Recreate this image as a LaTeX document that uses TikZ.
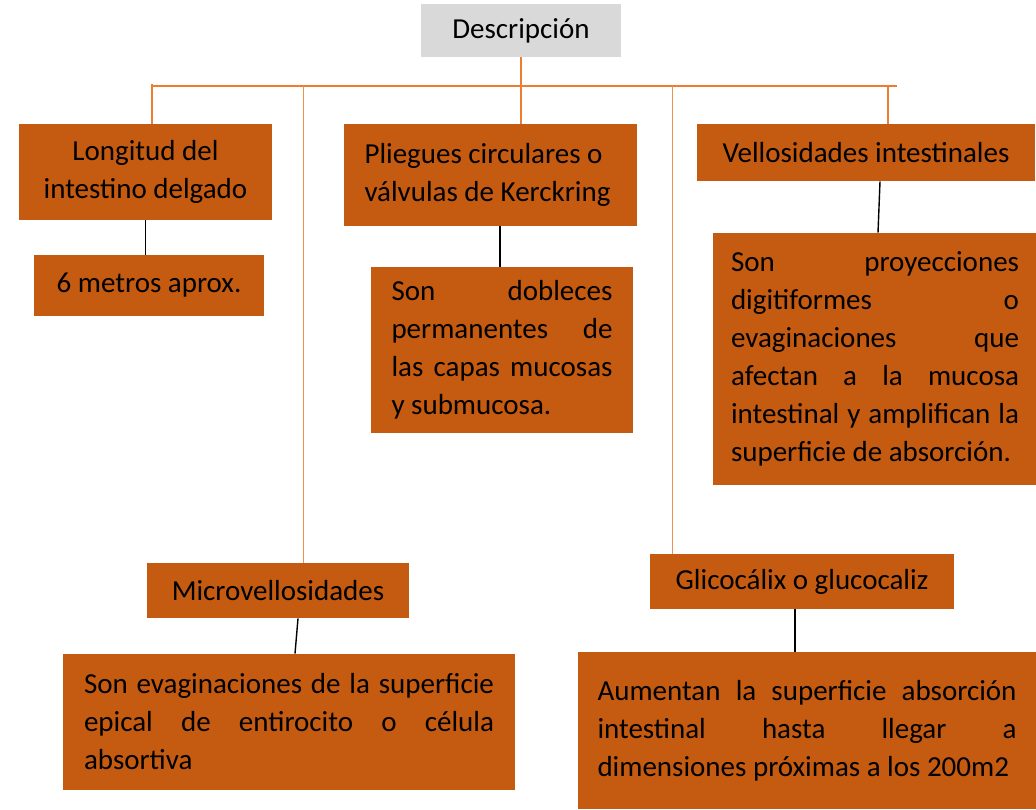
\documentclass[tikz,border=0pt]{standalone}
\usepackage{fontspec}
\setmainfont{Carlito}
\usetikzlibrary{positioning}
\definecolor{boxcol}{RGB}{197,90,17}
\definecolor{linecol}{RGB}{237,125,49}
\definecolor{titlecol}{RGB}{217,217,217}

\begin{document}
\begin{tikzpicture}[
    x=0.5pt, y=-0.5pt,
    box/.style={
        fill=boxcol,
        inner sep=0pt,
        font=\fontsize{14.5}{19}\selectfont
    },
    title/.style={
        fill=titlecol,
        inner sep=0pt,
        font=\fontsize{14.5}{19}\selectfont
    },
    para/.style={align=justify},
    branch/.style={draw=linecol, line width=0.8pt},
    thinbranch/.style={draw=linecol!85, line width=0.45pt},
    link/.style={draw=black, line width=0.7pt}
    ]
    \useasboundingbox (0,0) rectangle (1036,809);

    % Title
    \node[title, minimum width=100pt, minimum height=26.5pt] (desc) at (521,30.5) {Descripción};

    % First row
    \node[box, minimum width=126.5pt, minimum height=48pt, align=center] (lon) at (145.5,172) {Longitud del\\intestino delgado};
    \node[box, minimum width=146.5pt, minimum height=51pt, text width=126pt, align=flush left] (pli) at (490.5,175) {Pliegues circulares o\\válvulas de Kerckring};
    \node[box, minimum width=169pt, minimum height=28.5pt] (vel) at (866,152.5) {Vellosidades intestinales};

    % Details
    \node[box, minimum width=115pt, minimum height=30.5pt] (seis) at (149,285.5) {6 metros aprox.};
    \node[box, para, minimum width=131pt, minimum height=83pt, text width=110.5pt] (dob) at (502,350)
        {Son dobleces\linebreak permanentes de\linebreak las capas mucosas\linebreak y submucosa.};
    \node[box, para, minimum width=162.5pt, minimum height=126pt, text width=144pt] (pro) at (875,359)
        {Son proyecciones\linebreak digitiformes o\linebreak evaginaciones que\linebreak afectan a la mucosa\linebreak intestinal y amplifican la\linebreak superficie de absorción.};

    % Second row
    \node[box, minimum width=131pt, minimum height=27.5pt] (mic) at (278,590.5) {Microvellosidades};
    \node[box, minimum width=152pt, minimum height=27.5pt] (gli) at (802,581.5) {Glicocálix o glucocaliz};
    \node[box, para, minimum width=226pt, minimum height=68pt, text width=205pt] (eva) at (289,722)
        {Son evaginaciones de la superficie\linebreak epical de entirocito o célula\linebreak absortiva};
    \node[box, para, minimum width=229pt, minimum height=78.5pt, text width=209.5pt] (aum) at (807,730.5)
        {Aumentan la superficie absorción\linebreak intestinal hasta llegar a\linebreak dimensiones próximas a los 200m2};

    % Branches
    \coordinate (barl) at (152,86);
    \coordinate (barr) at (897,86);
    \draw[branch] (barl) -- (barr);
    \draw[branch] (desc.south) -- (desc.south |- pli.north);
    \draw[branch] ([yshift=1pt]barl) -- (barl |- lon.north);
    \draw[branch] (888,86) -- (vel.north -| 888,0);
    \draw[thinbranch] (303,86) -- (mic.north -| 303,0);
    \draw[thinbranch] (672,86) -- (gli.north -| 672,0);

    % Links
    \draw[link] (lon.south) -- (lon.south |- seis.north);
    \draw[link] (dob.north -| 500,0) -- (pli.south -| 500,0);
    \draw[link] (vel.south -| 880,0) -- (pro.north -| 878,0);
    \draw[link] (mic.south -| 298,0) -- (eva.north -| 295,0);
    \draw[link] (gli.south -| 795,0) -- (aum.north -| 795,0);
\end{tikzpicture}
\end{document}
